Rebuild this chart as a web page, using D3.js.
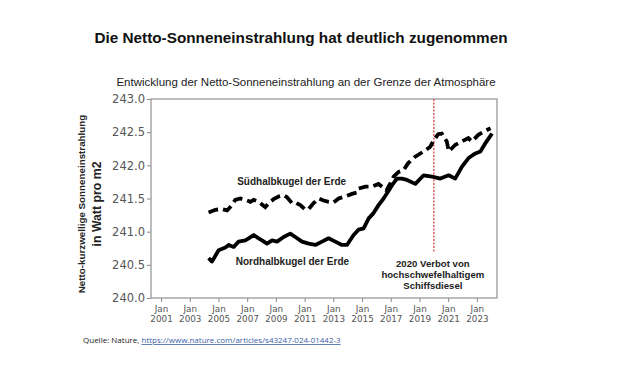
<!DOCTYPE html>
<html>
<head>
<meta charset="utf-8">
<script src="https://cdn.jsdelivr.net/npm/d3@7"></script>
<style>
  body { margin: 0; background: #fff; }
  svg { display: block; }
</style>
</head>
<body>
<div id="chart"></div>
<script>
// Nordhalbkugel (solid line)
let nordYears = [2004.31, 2004.55, 2005.01, 2005.48, 2005.71, 2006.06, 2006.40, 2006.87, 2007.10, 2007.45,
  2007.80, 2008.03, 2008.38, 2008.73, 2009.08, 2009.54, 2010.00, 2010.35, 2010.82, 2011.28,
  2011.75, 2012.21, 2012.67, 2013.14, 2013.60, 2013.95, 2014.41, 2014.76, 2015.11, 2015.46,
  2015.80, 2016.15, 2016.50, 2016.74, 2017.09, 2017.43, 2017.78, 2018.13, 2018.71, 2019.29,
  2019.87, 2020.45, 2021.03, 2021.49, 2021.96, 2022.42, 2022.89, 2023.24, 2023.58, 2023.93, 2024.05];
let nordValues = [240.60, 240.55, 240.72, 240.76, 240.80, 240.77, 240.85, 240.87, 240.90, 240.95,
  240.90, 240.87, 240.82, 240.87, 240.85, 240.92, 240.97, 240.92, 240.85, 240.82,
  240.80, 240.85, 240.90, 240.85, 240.80, 240.80, 240.95, 241.03, 241.05, 241.20,
  241.28, 241.40, 241.50, 241.58, 241.70, 241.80, 241.80, 241.78, 241.72, 241.85,
  241.83, 241.80, 241.85, 241.80, 241.98, 242.11, 242.18, 242.21, 242.33, 242.44, 242.48];

// Suedhalbkugel (dashed line)
let suedYears = [2004.31, 2004.78, 2005.25, 2005.60, 2005.94, 2006.17, 2006.52, 2006.87, 2007.22, 2007.45,
  2007.80, 2008.14, 2008.26, 2008.49, 2008.84, 2009.19, 2009.54, 2009.77, 2010.12, 2010.35,
  2010.70, 2011.05, 2011.28, 2011.63, 2011.98, 2012.32, 2012.67, 2013.02, 2013.37, 2013.83,
  2014.30, 2014.65, 2014.76, 2015.23, 2015.69, 2016.15, 2016.50, 2016.70, 2016.90, 2017.20,
  2017.55, 2017.90, 2018.20, 2018.70, 2019.30, 2019.75, 2020.00, 2020.30, 2020.55, 2020.90,
  2021.05, 2021.50, 2021.95, 2022.40, 2022.65, 2023.10, 2023.50, 2023.95];
let suedValues = [241.29, 241.33, 241.34, 241.32, 241.40, 241.48, 241.50, 241.48, 241.45, 241.48,
  241.45, 241.39, 241.37, 241.43, 241.49, 241.53, 241.55, 241.52, 241.43, 241.44,
  241.40, 241.33, 241.34, 241.43, 241.50, 241.47, 241.45, 241.44, 241.50, 241.53,
  241.57, 241.59, 241.65, 241.68, 241.68, 241.72, 241.66, 241.62, 241.70, 241.83,
  241.90, 241.93, 242.03, 242.13, 242.21, 242.28, 242.38, 242.47, 242.48, 242.36,
  242.21, 242.31, 242.36, 242.41, 242.36, 242.46, 242.51, 242.56];

let xTickYears = [2001, 2003, 2005, 2007, 2009, 2011, 2013, 2015, 2017, 2019, 2021, 2023];
let yTicks = [240.0, 240.5, 241.0, 241.5, 242.0, 242.5, 243.0];
let banYear = 2020, banLineBottom = 240.7;
let banText = ["2020 Verbot von", "hochschwefelhaltigem", "Schiffsdiesel"];

let width = 620, height = 367;
let margin = { top: 99, right: 123, bottom: 69, left: 151 };

let svg = d3.select("#chart").append("svg")
  .attr("width", width)
  .attr("height", height)
  .style("font-family", "'Liberation Sans', Arial, sans-serif");

let x = d3.scaleLinear().domain([2000.3, 2024.4]).range([margin.left, width - margin.right]);
let y = d3.scaleLinear().domain([240, 243]).range([height - margin.bottom, margin.top]);

// Titles
svg.append("text")
  .attr("x", 301).attr("y", 43)
  .attr("text-anchor", "middle")
  .attr("font-size", "15.3px").attr("font-weight", "bold")
  .attr("fill", "#111")
  .text("Die Netto-Sonneneinstrahlung hat deutlich zugenommen");

svg.append("text")
  .attr("x", 306).attr("y", 86)
  .attr("text-anchor", "middle")
  .attr("font-size", "11.5px")
  .attr("fill", "#222")
  .text("Entwicklung der Netto-Sonneneinstrahlung an der Grenze der Atmosphäre");

// Axes
let tickFont = "'DejaVu Sans', sans-serif";
let yAxis = svg.append("g")
  .attr("transform", `translate(${margin.left},0)`)
  .call(d3.axisLeft(y).tickValues(yTicks).tickFormat(d3.format(".1f")).tickSize(4).tickPadding(2));
yAxis.selectAll("text").attr("font-size", "11.5px").attr("font-family", tickFont).attr("fill", "#555");

let xAxis = svg.append("g")
  .attr("transform", `translate(0,${height - margin.bottom})`)
  .call(d3.axisBottom(x).tickValues(xTickYears).tickFormat("").tickSize(4));
xAxis.selectAll(".tick").append("text")
  .attr("text-anchor", "middle")
  .attr("font-size", "8.8px").attr("font-family", tickFont).attr("fill", "#555")
  .selectAll("tspan")
  .data(d => ["Jan", String(d)])
  .join("tspan")
  .attr("x", 0)
  .attr("y", (d, i) => 14 + i * 10)
  .text(d => d);

svg.selectAll(".domain").remove();
svg.selectAll(".tick line").attr("stroke", "#888");

// Frame
svg.append("rect")
  .attr("x", margin.left).attr("y", margin.top)
  .attr("width", width - margin.left - margin.right)
  .attr("height", height - margin.top - margin.bottom)
  .attr("fill", "none").attr("stroke", "#999").attr("stroke-width", 1.3);

// Y label
let yl = svg.append("text")
  .attr("transform", "translate(85,204) rotate(-90)")
  .attr("text-anchor", "middle")
  .attr("font-weight", "bold").attr("fill", "#222");
yl.append("tspan").attr("x", 0).attr("y", 0).attr("font-size", "9.8px")
  .text("Netto-kurzwellige Sonneneinstrahlung");
yl.append("tspan").attr("x", 0).attr("y", 16).attr("font-size", "12.3px")
  .text("in Watt pro m2");

// Red ban line
svg.append("line")
  .attr("x1", x(banYear)).attr("x2", x(banYear))
  .attr("y1", y(243)).attr("y2", y(banLineBottom))
  .attr("stroke", "#d9352b").attr("stroke-width", 1.2)
  .attr("stroke-dasharray", "2,1.5");

// Lines
let line = d3.line().x(d => x(d[0])).y(d => y(d[1]));

svg.append("path")
  .datum(d3.zip(suedYears, suedValues))
  .attr("d", line)
  .attr("fill", "none").attr("stroke", "#000")
  .attr("stroke-width", 3.8).attr("stroke-dasharray", "10,5");

svg.append("path")
  .datum(d3.zip(nordYears, nordValues))
  .attr("d", line)
  .attr("fill", "none").attr("stroke", "#000")
  .attr("stroke-width", 3.8).attr("stroke-linejoin", "round");

// Annotations
svg.append("text")
  .attr("x", x(2006.3)).attr("y", y(241.71))
  .attr("font-size", "10px").attr("font-weight", "bold").attr("fill", "#222")
  .text("Südhalbkugel der Erde");

svg.append("text")
  .attr("x", x(2006.2)).attr("y", y(240.49))
  .attr("font-size", "10px").attr("font-weight", "bold").attr("fill", "#222")
  .text("Nordhalbkugel der Erde");

svg.append("g").selectAll("text")
  .data(banText)
  .join("text")
  .attr("x", x(banYear) - 1)
  .attr("y", (d, i) => y(240.46) + i * 10.6)
  .attr("text-anchor", "middle")
  .attr("font-size", "9.6px").attr("font-weight", "bold").attr("fill", "#222")
  .text(d => d);

// Source
let src = svg.append("text")
  .attr("x", 83).attr("y", 343)
  .attr("font-size", "8px").attr("fill", "#222")
  .attr("font-family", "'Open Sans', sans-serif");
src.append("tspan").text("Quelle: Nature, ");
src.append("tspan").attr("fill", "#3b62a8").attr("text-decoration", "underline")
  .text("https://www.nature.com/articles/s43247-024-01442-3");
</script>
</body>
</html>
